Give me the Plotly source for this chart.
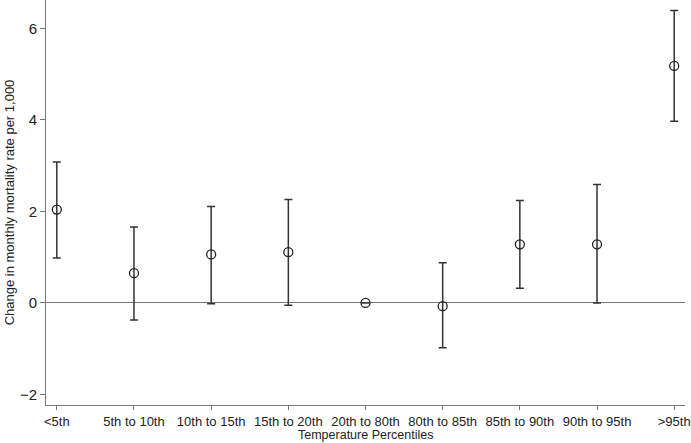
import plotly.graph_objects as go

categories = ["<5th", "5th to 10th", "10th to 15th", "15th to 20th", "20th to 80th",
              "80th to 85th", "85th to 90th", "90th to 95th", ">95th"]
estimates = [2.04, 0.65, 1.06, 1.11, 0.0, -0.07, 1.28, 1.28, 5.18]
upper = [3.08, 1.66, 2.11, 2.26, 0.0, 0.88, 2.24, 2.59, 6.39]
lower = [0.98, -0.37, -0.02, -0.05, 0.0, -0.98, 0.32, 0.0, 3.97]
y_ticks = [-2, 0, 2, 4, 6]

err_plus = [u - e for u, e in zip(upper, estimates)]
err_minus = [e - l for e, l in zip(estimates, lower)]
xpos = list(range(len(categories)))

fig = go.Figure()
fig.add_trace(go.Scatter(
    x=xpos, y=estimates, mode="markers",
    marker=dict(symbol="circle-open", size=9, color="#222222", line=dict(width=1.3)),
    error_y=dict(type="data", symmetric=False, array=err_plus, arrayminus=err_minus,
                 color="#333333", thickness=1.5, width=4),
    showlegend=False,
))

axis_color = "#777777"
fig.update_layout(
    width=691, height=443,
    margin=dict(l=46, r=6, t=0, b=38),
    paper_bgcolor="white", plot_bgcolor="white",
    font=dict(family="Liberation Sans, Arial, sans-serif", color="#222222"),
    xaxis=dict(
        tickmode="array", tickvals=xpos, ticktext=categories,
        range=[-0.14, 8.14], showgrid=False, zeroline=False,
        showline=True, linecolor=axis_color, linewidth=1,
        ticks="outside", ticklen=4, tickcolor=axis_color,
        tickfont=dict(size=13),
        automargin=False,
    ),
    yaxis=dict(
        range=[-2.23, 6.62], tickmode="array", tickvals=y_ticks,
        showgrid=False, zeroline=True, zerolinecolor=axis_color, zerolinewidth=1,
        showline=True, linecolor=axis_color, linewidth=1,
        ticks="outside", ticklen=5, tickcolor=axis_color,
        tickfont=dict(size=15),
        title=dict(text="Change in monthly mortality rate per 1,000", font=dict(size=13), standoff=2),
        automargin=False,
    ),
    annotations=[dict(
        text="Temperature Percentiles", xref="paper", yref="paper",
        x=0.5, y=0, yanchor="bottom", xanchor="center", yshift=-38,
        showarrow=False, font=dict(size=12.5), borderpad=0,
    )],
)

fig.write_html("out.html")
